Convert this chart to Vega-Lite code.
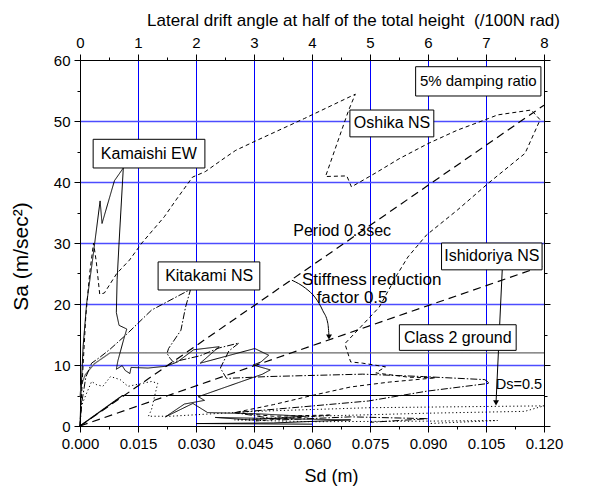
{
  "$schema": "https://vega.github.io/schema/vega-lite/v6.json",
  "width": 464,
  "height": 366,
  "autosize": "none",
  "padding": {"left": 80, "top": 60, "right": 54, "bottom": 65},
  "background": "white",
  "config": {
    "font": "Liberation Sans",
    "view": {"stroke": "black", "strokeWidth": 1},
    "axis": {
      "labelFont": "Liberation Sans",
      "labelFontSize": 15,
      "labelColor": "black",
      "titleFont": "Liberation Sans",
      "titleFontSize": 18,
      "titleFontWeight": "normal",
      "titleColor": "black",
      "domainColor": "black",
      "tickColor": "black",
      "labelPadding": 4
    }
  },
  "datasets": {
    "refs": [
      {"s": "Class 2 ground", "i": 1, "x": 0, "y": 4.8},
      {"s": "Class 2 ground", "i": 2, "x": 0.00027, "y": 6.6},
      {"s": "Class 2 ground", "i": 3, "x": 0.00136, "y": 8.4},
      {"s": "Class 2 ground", "i": 4, "x": 0.0037, "y": 10.2},
      {"s": "Class 2 ground", "i": 5, "x": 0.0078, "y": 12},
      {"s": "Class 2 ground", "i": 6, "x": 0.12, "y": 12},
      {"s": "Ds=0.5", "i": 1, "x": 0, "y": 0},
      {"s": "Ds=0.5", "i": 2, "x": 0.011, "y": 5},
      {"s": "Ds=0.5", "i": 3, "x": 0.12, "y": 5},
      {"s": "Period 0.3sec", "i": 1, "x": 0, "y": 0},
      {"s": "Period 0.3sec", "i": 2, "x": 0.12, "y": 52.6},
      {"s": "Stiffness 0.5", "i": 1, "x": 0, "y": 0},
      {"s": "Stiffness 0.5", "i": 2, "x": 0.12, "y": 26.3}
    ],
    "curves": [
      {"s": "Kamaishi EW", "i": 1, "x": 0, "y": 0},
      {"s": "Kamaishi EW", "i": 2, "x": 0.0003, "y": 6},
      {"s": "Kamaishi EW", "i": 3, "x": 0.0008, "y": 13},
      {"s": "Kamaishi EW", "i": 4, "x": 0.0017, "y": 20},
      {"s": "Kamaishi EW", "i": 5, "x": 0.0032, "y": 27},
      {"s": "Kamaishi EW", "i": 6, "x": 0.0052, "y": 36.9},
      {"s": "Kamaishi EW", "i": 7, "x": 0.0057, "y": 33.2},
      {"s": "Kamaishi EW", "i": 8, "x": 0.0089, "y": 40.2},
      {"s": "Kamaishi EW", "i": 9, "x": 0.0112, "y": 42.3},
      {"s": "Kamaishi EW", "i": 10, "x": 0.0101, "y": 30},
      {"s": "Kamaishi EW", "i": 11, "x": 0.0096, "y": 24},
      {"s": "Kamaishi EW", "i": 12, "x": 0.0094, "y": 18.6},
      {"s": "Kamaishi EW", "i": 13, "x": 0.0101, "y": 16.5},
      {"s": "Kamaishi EW", "i": 14, "x": 0.0121, "y": 15.9},
      {"s": "Kamaishi EW", "i": 15, "x": 0.0113, "y": 14.2},
      {"s": "Kamaishi EW", "i": 16, "x": 0.0098, "y": 10.7},
      {"s": "Kamaishi EW", "i": 17, "x": 0.0094, "y": 9.3},
      {"s": "Kamaishi EW", "i": 18, "x": 0.0109, "y": 9.9},
      {"s": "Kamaishi EW", "i": 19, "x": 0.0117, "y": 9.1},
      {"s": "Kamaishi EW", "i": 20, "x": 0.0129, "y": 8.6},
      {"s": "Kamaishi EW", "i": 21, "x": 0.0132, "y": 9.6},
      {"s": "Kamaishi EW", "i": 22, "x": 0.0176, "y": 9.5},
      {"s": "Kamaishi EW", "i": 23, "x": 0.0223, "y": 9.8},
      {"s": "Kamaishi EW", "i": 24, "x": 0.0252, "y": 10.5},
      {"s": "Kamaishi EW", "i": 25, "x": 0.0294, "y": 12.5},
      {"s": "Kamaishi EW", "i": 26, "x": 0.036, "y": 13.0},
      {"s": "Kamaishi EW", "i": 27, "x": 0.0311, "y": 10.3},
      {"s": "Kamaishi EW", "i": 28, "x": 0.0452, "y": 12.7},
      {"s": "Kamaishi EW", "i": 29, "x": 0.0488, "y": 11.6},
      {"s": "Kamaishi EW", "i": 30, "x": 0.0468, "y": 10.5},
      {"s": "Kamaishi EW", "i": 31, "x": 0.0448, "y": 10.0},
      {"s": "Kamaishi EW", "i": 32, "x": 0.0492, "y": 9.2},
      {"s": "Kamaishi EW", "i": 33, "x": 0.0472, "y": 8.5},
      {"s": "Kamaishi EW", "i": 34, "x": 0.0306, "y": 4.8},
      {"s": "Kamaishi EW", "i": 35, "x": 0.0322, "y": 4.2},
      {"s": "Kamaishi EW", "i": 36, "x": 0.027, "y": 3.6},
      {"s": "Kamaishi EW", "i": 37, "x": 0.0221, "y": 1.5},
      {"s": "Kamaishi EW", "i": 38, "x": 0.0292, "y": 3.7},
      {"s": "Kamaishi EW", "i": 39, "x": 0.033, "y": 2.2},
      {"s": "Kamaishi EW", "i": 40, "x": 0.046, "y": 2.0},
      {"s": "Kamaishi EW", "i": 41, "x": 0.058, "y": 1.6},
      {"s": "Kamaishi EW", "i": 42, "x": 0.044, "y": 1.0},
      {"s": "Kamaishi EW", "i": 43, "x": 0.035, "y": 1.4},
      {"s": "Kamaishi EW", "i": 44, "x": 0.052, "y": 1.2},
      {"s": "Kamaishi EW", "i": 45, "x": 0.07, "y": 1.0},
      {"s": "Kamaishi EW", "i": 46, "x": 0.05, "y": 0.5},
      {"s": "Kamaishi EW", "i": 47, "x": 0.03, "y": 0.4},
      {"s": "Kamaishi EW", "i": 48, "x": 0.06, "y": 0.3},
      {"s": "Oshika NS", "i": 1, "x": 0, "y": 0},
      {"s": "Oshika NS", "i": 2, "x": 0.0008, "y": 10},
      {"s": "Oshika NS", "i": 3, "x": 0.0015, "y": 18},
      {"s": "Oshika NS", "i": 4, "x": 0.0025, "y": 25},
      {"s": "Oshika NS", "i": 5, "x": 0.0035, "y": 30},
      {"s": "Oshika NS", "i": 6, "x": 0.0042, "y": 27},
      {"s": "Oshika NS", "i": 7, "x": 0.0051, "y": 21.6},
      {"s": "Oshika NS", "i": 8, "x": 0.0063, "y": 21.8},
      {"s": "Oshika NS", "i": 9, "x": 0.0095, "y": 25},
      {"s": "Oshika NS", "i": 10, "x": 0.0128, "y": 27.2},
      {"s": "Oshika NS", "i": 11, "x": 0.016, "y": 30},
      {"s": "Oshika NS", "i": 12, "x": 0.0218, "y": 34.3},
      {"s": "Oshika NS", "i": 13, "x": 0.025, "y": 37.2},
      {"s": "Oshika NS", "i": 14, "x": 0.0291, "y": 40.8},
      {"s": "Oshika NS", "i": 15, "x": 0.0324, "y": 41.7},
      {"s": "Oshika NS", "i": 16, "x": 0.0373, "y": 43.9},
      {"s": "Oshika NS", "i": 17, "x": 0.0403, "y": 45.2},
      {"s": "Oshika NS", "i": 18, "x": 0.046, "y": 46.9},
      {"s": "Oshika NS", "i": 19, "x": 0.058, "y": 50.4},
      {"s": "Oshika NS", "i": 20, "x": 0.0712, "y": 54.4},
      {"s": "Oshika NS", "i": 21, "x": 0.0695, "y": 51.8},
      {"s": "Oshika NS", "i": 22, "x": 0.0635, "y": 40.9},
      {"s": "Oshika NS", "i": 23, "x": 0.069, "y": 41.0},
      {"s": "Oshika NS", "i": 24, "x": 0.0702, "y": 39.2},
      {"s": "Oshika NS", "i": 25, "x": 0.0765, "y": 41.5},
      {"s": "Oshika NS", "i": 26, "x": 0.0825, "y": 43.8},
      {"s": "Oshika NS", "i": 27, "x": 0.09, "y": 46.3},
      {"s": "Oshika NS", "i": 28, "x": 0.0976, "y": 48.5},
      {"s": "Oshika NS", "i": 29, "x": 0.1056, "y": 50.4},
      {"s": "Oshika NS", "i": 30, "x": 0.108, "y": 51},
      {"s": "Oshika NS", "i": 31, "x": 0.1167, "y": 51.8},
      {"s": "Oshika NS", "i": 32, "x": 0.119, "y": 50.2},
      {"s": "Oshika NS", "i": 33, "x": 0.1151, "y": 44.7},
      {"s": "Oshika NS", "i": 34, "x": 0.1056, "y": 39.8},
      {"s": "Oshika NS", "i": 35, "x": 0.0976, "y": 35.4},
      {"s": "Oshika NS", "i": 36, "x": 0.0896, "y": 31.3},
      {"s": "Oshika NS", "i": 37, "x": 0.0848, "y": 27.7},
      {"s": "Oshika NS", "i": 38, "x": 0.082, "y": 24.8},
      {"s": "Oshika NS", "i": 39, "x": 0.0774, "y": 19.5},
      {"s": "Oshika NS", "i": 40, "x": 0.0718, "y": 15.7},
      {"s": "Oshika NS", "i": 41, "x": 0.0685, "y": 13.5},
      {"s": "Oshika NS", "i": 42, "x": 0.07, "y": 10.5},
      {"s": "Oshika NS", "i": 43, "x": 0.0731, "y": 10.3},
      {"s": "Oshika NS", "i": 44, "x": 0.079, "y": 9.7},
      {"s": "Oshika NS", "i": 45, "x": 0.0765, "y": 8.7},
      {"s": "Oshika NS", "i": 46, "x": 0.085, "y": 8.0},
      {"s": "Oshika NS", "i": 47, "x": 0.092, "y": 7.9},
      {"s": "Oshika NS", "i": 48, "x": 0.08, "y": 7.2},
      {"s": "Oshika NS", "i": 49, "x": 0.07, "y": 6.4},
      {"s": "Oshika NS", "i": 50, "x": 0.06, "y": 5.0},
      {"s": "Oshika NS", "i": 51, "x": 0.05, "y": 3.5},
      {"s": "Oshika NS", "i": 52, "x": 0.04, "y": 2.2},
      {"s": "Oshika NS", "i": 53, "x": 0.05, "y": 1.6},
      {"s": "Oshika NS", "i": 54, "x": 0.065, "y": 1.8},
      {"s": "Oshika NS", "i": 55, "x": 0.045, "y": 0.8},
      {"s": "Kitakami NS", "i": 1, "x": 0, "y": 0},
      {"s": "Kitakami NS", "i": 2, "x": 0.0005, "y": 4},
      {"s": "Kitakami NS", "i": 3, "x": 0.0015, "y": 8},
      {"s": "Kitakami NS", "i": 4, "x": 0.003, "y": 10.3},
      {"s": "Kitakami NS", "i": 5, "x": 0.005, "y": 11.2},
      {"s": "Kitakami NS", "i": 6, "x": 0.0078, "y": 12.6},
      {"s": "Kitakami NS", "i": 7, "x": 0.012, "y": 15},
      {"s": "Kitakami NS", "i": 8, "x": 0.0185, "y": 19},
      {"s": "Kitakami NS", "i": 9, "x": 0.0286, "y": 22.4},
      {"s": "Kitakami NS", "i": 10, "x": 0.0273, "y": 19.5},
      {"s": "Kitakami NS", "i": 11, "x": 0.0261, "y": 15.7},
      {"s": "Kitakami NS", "i": 12, "x": 0.0229, "y": 12.7},
      {"s": "Kitakami NS", "i": 13, "x": 0.0225, "y": 11.9},
      {"s": "Kitakami NS", "i": 14, "x": 0.0233, "y": 11.1},
      {"s": "Kitakami NS", "i": 15, "x": 0.0241, "y": 10.5},
      {"s": "Kitakami NS", "i": 16, "x": 0.031, "y": 11.5},
      {"s": "Kitakami NS", "i": 17, "x": 0.036, "y": 12.8},
      {"s": "Kitakami NS", "i": 18, "x": 0.0411, "y": 13.6},
      {"s": "Kitakami NS", "i": 19, "x": 0.0385, "y": 12.3},
      {"s": "Kitakami NS", "i": 20, "x": 0.0363, "y": 9.5},
      {"s": "Kitakami NS", "i": 21, "x": 0.0379, "y": 7.8},
      {"s": "Kitakami NS", "i": 22, "x": 0.0483, "y": 8.1},
      {"s": "Kitakami NS", "i": 23, "x": 0.0731, "y": 8.5},
      {"s": "Kitakami NS", "i": 24, "x": 0.0888, "y": 8.1},
      {"s": "Kitakami NS", "i": 25, "x": 0.1047, "y": 7.6},
      {"s": "Kitakami NS", "i": 26, "x": 0.1059, "y": 7.0},
      {"s": "Kitakami NS", "i": 27, "x": 0.0896, "y": 5.7},
      {"s": "Kitakami NS", "i": 28, "x": 0.0746, "y": 4.1},
      {"s": "Kitakami NS", "i": 29, "x": 0.055, "y": 3.0},
      {"s": "Kitakami NS", "i": 30, "x": 0.04, "y": 2.2},
      {"s": "Kitakami NS", "i": 31, "x": 0.052, "y": 1.0},
      {"s": "Kitakami NS", "i": 32, "x": 0.07, "y": 1.5},
      {"s": "Kitakami NS", "i": 33, "x": 0.09, "y": 1.2},
      {"s": "Kitakami NS", "i": 34, "x": 0.075, "y": 0.6},
      {"s": "Ishidoriya NS", "i": 1, "x": 0, "y": 0},
      {"s": "Ishidoriya NS", "i": 2, "x": 0.0003, "y": 3.2},
      {"s": "Ishidoriya NS", "i": 3, "x": 0.0014, "y": 4.9},
      {"s": "Ishidoriya NS", "i": 4, "x": 0.003, "y": 7.3},
      {"s": "Ishidoriya NS", "i": 5, "x": 0.0042, "y": 6.8},
      {"s": "Ishidoriya NS", "i": 6, "x": 0.0059, "y": 6.5},
      {"s": "Ishidoriya NS", "i": 7, "x": 0.0079, "y": 8.1},
      {"s": "Ishidoriya NS", "i": 8, "x": 0.0104, "y": 7.6},
      {"s": "Ishidoriya NS", "i": 9, "x": 0.0124, "y": 6.5},
      {"s": "Ishidoriya NS", "i": 10, "x": 0.0185, "y": 7.3},
      {"s": "Ishidoriya NS", "i": 11, "x": 0.0201, "y": 7.0},
      {"s": "Ishidoriya NS", "i": 12, "x": 0.0193, "y": 4.9},
      {"s": "Ishidoriya NS", "i": 13, "x": 0.0185, "y": 2.7},
      {"s": "Ishidoriya NS", "i": 14, "x": 0.0177, "y": 1.6},
      {"s": "Ishidoriya NS", "i": 15, "x": 0.0234, "y": 1.6},
      {"s": "Ishidoriya NS", "i": 16, "x": 0.045, "y": 2.4},
      {"s": "Ishidoriya NS", "i": 17, "x": 0.075, "y": 3.0},
      {"s": "Ishidoriya NS", "i": 18, "x": 0.12, "y": 3.3},
      {"s": "Ishidoriya NS", "i": 19, "x": 0.115, "y": 2.4},
      {"s": "Ishidoriya NS", "i": 20, "x": 0.09, "y": 2.1},
      {"s": "Ishidoriya NS", "i": 21, "x": 0.06, "y": 1.6},
      {"s": "Ishidoriya NS", "i": 22, "x": 0.04, "y": 1.0},
      {"s": "Ishidoriya NS", "i": 23, "x": 0.06, "y": 0.7},
      {"s": "Ishidoriya NS", "i": 24, "x": 0.09, "y": 0.8},
      {"s": "Ishidoriya NS", "i": 25, "x": 0.108, "y": 0.9},
      {"s": "Ishidoriya NS", "i": 26, "x": 0.09, "y": 0.4}
    ],
    "boxes": [
      {"t": "5% damping ratio", "x": 0.0868, "x2": 0.1192, "y": 54.1, "y2": 58.9},
      {"t": "Oshika NS", "x": 0.0698, "x2": 0.0915, "y": 47.4, "y2": 51.8},
      {"t": "Kamaishi EW", "x": 0.0034, "x2": 0.0323, "y": 42.3, "y2": 47.0},
      {"t": "Kitakami NS", "x": 0.0202, "x2": 0.0465, "y": 22.3, "y2": 26.9},
      {"t": "Ishidoriya NS", "x": 0.0935, "x2": 0.1195, "y": 25.6, "y2": 30.0},
      {"t": "Class 2 ground", "x": 0.0826, "x2": 0.1128, "y": 12.4, "y2": 16.6}
    ],
    "labels": [
      {"t": "Oshika NS", "x": 0.0807, "y": 49.6},
      {"t": "Kamaishi EW", "x": 0.0178, "y": 44.65},
      {"t": "Kitakami NS", "x": 0.0334, "y": 24.6},
      {"t": "Ishidoriya NS", "x": 0.1065, "y": 27.8},
      {"t": "Class 2 ground", "x": 0.0977, "y": 14.5},
      {"t": "Period 0.3sec", "x": 0.0678, "y": 32.0}
    ],
    "smalllabels": [
      {"t": "5% damping ratio", "x": 0.103, "y": 56.5}
    ],
    "leftlabels": [
      {"t": "Stiffness reduction", "x": 0.0574, "y": 24.0},
      {"t": "factor 0.5", "x": 0.0612, "y": 21.0}
    ],
    "rightlabels": [
      {"t": "Ds=0.5", "x": 0.1195, "y": 6.8}
    ],
    "arrows": [
      {"a": "stiff", "i": 1, "x": 0.0548, "y": 23.9},
      {"a": "stiff", "i": 2, "x": 0.0583, "y": 22.6},
      {"a": "stiff", "i": 3, "x": 0.0609, "y": 21.0},
      {"a": "stiff", "i": 4, "x": 0.0628, "y": 18.9},
      {"a": "stiff", "i": 5, "x": 0.0641, "y": 16.8},
      {"a": "stiff", "i": 6, "x": 0.0644, "y": 14.7},
      {"a": "ishi", "i": 1, "x": 0.1092, "y": 25.6},
      {"a": "ishi", "i": 2, "x": 0.1076, "y": 3.9}
    ],
    "heads": [
      {"a": "stiff", "x": 0.0644, "y": 14.6},
      {"a": "ishi", "x": 0.1076, "y": 3.8}
    ]
  },
  "layer": [
    {
      "data": {"name": "refs"},
      "mark": {"type": "line", "strokeWidth": 1.2},
      "encoding": {
        "x": {
          "field": "x", "type": "quantitative",
          "scale": {"domain": [0, 0.12], "nice": false, "zero": false},
          "axis": {
            "orient": "bottom",
            "title": "Sd (m)",
            "titlePadding": 16,
            "titleX": 251,
            "values": [0, 0.0075, 0.015, 0.0225, 0.03, 0.0375, 0.045, 0.0525, 0.06, 0.0675, 0.075, 0.0825, 0.09, 0.0975, 0.105, 0.1125, 0.12],
            "labelExpr": "round(datum.value / 0.0075) % 2 == 0 ? format(datum.value, '.3f') : ''",
            "tickSize": {"condition": {"test": "round(datum.value / 0.0075) % 2 == 0", "value": 6}, "value": 3},
            "grid": true,
            "gridColor": "#0000ff",
            "gridWidth": 1,
            "gridOpacity": {"condition": {"test": "round(datum.value / 0.0075) % 2 == 0 && datum.value > 0.001 && datum.value < 0.119", "value": 1}, "value": 0},
            "labelFlush": false
          }
        },
        "y": {
          "field": "y", "type": "quantitative",
          "scale": {"domain": [0, 60], "nice": false},
          "axis": {
            "orient": "left",
            "title": "Sa (m/sec²)",
            "titlePadding": 22,
            "titleFontSize": 21,
            "titleY": 196,
            "values": [0, 5, 10, 15, 20, 25, 30, 35, 40, 45, 50, 55, 60],
            "labelExpr": "datum.value % 10 == 0 ? format(datum.value, 'd') : ''",
            "tickSize": {"condition": {"test": "datum.value % 10 == 0", "value": 6}, "value": 3},
            "grid": true,
            "gridColor": "#4d4dff",
            "gridWidth": 1.6,
            "gridOpacity": {"condition": {"test": "datum.value % 10 == 0 && datum.value > 0 && datum.value < 60", "value": 1}, "value": 0},
            "labelFlush": false
          }
        },
        "detail": {"field": "s"},
        "order": {"field": "i"},
        "color": {"field": "s", "type": "nominal", "legend": null,
          "scale": {"domain": ["Class 2 ground", "Ds=0.5", "Period 0.3sec", "Stiffness 0.5"], "range": ["#666666", "black", "black", "black"]}},
        "strokeDash": {"field": "s", "type": "nominal", "legend": null,
          "scale": {"domain": ["Class 2 ground", "Ds=0.5", "Period 0.3sec", "Stiffness 0.5", "Kamaishi EW", "Oshika NS", "Kitakami NS", "Ishidoriya NS"], "range": [[1, 0], [1, 0], [8, 5], [8, 5], [1, 0], [4, 3], [7, 2, 1.5, 2], [1.2, 2.5]]}}
      }
    },
    {
      "data": {"name": "curves"},
      "mark": {"type": "line", "strokeWidth": 1, "color": "black"},
      "encoding": {
        "x": {
          "field": "x", "type": "quantitative",
          "scale": {"domain": [0, 0.12], "nice": false, "zero": false},
          "axis": {
            "orient": "top",
            "title": "Lateral drift angle at half of the total height \u00a0(/100N rad)",
            "titleFontSize": 17,
            "titlePadding": 6,
            "titleX": 273,
            "values": [0, 0.0075, 0.015, 0.0225, 0.03, 0.0375, 0.045, 0.0525, 0.06, 0.0675, 0.075, 0.0825, 0.09, 0.0975, 0.105, 0.1125, 0.12],
            "labelExpr": "round(datum.value / 0.0075) % 2 == 0 ? format(datum.value / 0.015, '.0f') : ''",
            "tickSize": {"condition": {"test": "round(datum.value / 0.0075) % 2 == 0", "value": 6}, "value": 3},
            "grid": false,
            "labelFlush": false
          }
        },
        "y": {
          "field": "y", "type": "quantitative",
          "scale": {"domain": [0, 60], "nice": false},
          "axis": {
            "orient": "right",
            "title": null,
            "values": [0, 5, 10, 15, 20, 25, 30, 35, 40, 45, 50, 55, 60],
            "labels": false,
            "tickSize": {"condition": {"test": "datum.value % 10 == 0", "value": 6}, "value": 3},
            "grid": false
          }
        },
        "detail": {"field": "s"},
        "order": {"field": "i"},
        "strokeDash": {"field": "s", "type": "nominal", "legend": null,
          "scale": {"domain": ["Class 2 ground", "Ds=0.5", "Period 0.3sec", "Stiffness 0.5", "Kamaishi EW", "Oshika NS", "Kitakami NS", "Ishidoriya NS"], "range": [[1, 0], [1, 0], [8, 5], [8, 5], [1, 0], [4, 3], [7, 2, 1.5, 2], [1.2, 2.5]]}}
      }
    },
    {
      "data": {"name": "arrows"},
      "mark": {"type": "line", "strokeWidth": 1, "color": "black", "interpolate": "monotone"},
      "encoding": {
        "x": {"field": "x", "type": "quantitative", "axis": null},
        "y": {"field": "y", "type": "quantitative", "axis": null},
        "detail": {"field": "a"},
        "order": {"field": "i"}
      }
    },
    {
      "data": {"name": "heads"},
      "mark": {"type": "point", "shape": "triangle-down", "filled": true, "color": "black", "size": 35, "opacity": 1},
      "encoding": {
        "x": {"field": "x", "type": "quantitative", "axis": null},
        "y": {"field": "y", "type": "quantitative", "axis": null}
      }
    },
    {
      "data": {"name": "boxes"},
      "mark": {"type": "rect", "fill": "white", "stroke": "black", "strokeWidth": 1},
      "encoding": {
        "x": {"field": "x", "type": "quantitative", "axis": null},
        "x2": {"field": "x2"},
        "y": {"field": "y", "type": "quantitative", "axis": null},
        "y2": {"field": "y2"}
      }
    },
    {
      "data": {"name": "labels"},
      "mark": {"type": "text", "fontSize": 16, "font": "Liberation Sans", "align": "center", "baseline": "middle", "color": "black"},
      "encoding": {
        "x": {"field": "x", "type": "quantitative", "axis": null},
        "y": {"field": "y", "type": "quantitative", "axis": null},
        "text": {"field": "t"}
      }
    },
    {
      "data": {"name": "smalllabels"},
      "mark": {"type": "text", "fontSize": 15, "font": "Liberation Sans", "align": "center", "baseline": "middle", "color": "black"},
      "encoding": {
        "x": {"field": "x", "type": "quantitative", "axis": null},
        "y": {"field": "y", "type": "quantitative", "axis": null},
        "text": {"field": "t"}
      }
    },
    {
      "data": {"name": "leftlabels"},
      "mark": {"type": "text", "fontSize": 17, "font": "Liberation Sans", "align": "left", "baseline": "middle", "color": "black"},
      "encoding": {
        "x": {"field": "x", "type": "quantitative", "axis": null},
        "y": {"field": "y", "type": "quantitative", "axis": null},
        "text": {"field": "t"}
      }
    },
    {
      "data": {"name": "rightlabels"},
      "mark": {"type": "text", "fontSize": 14.5, "font": "Liberation Sans", "align": "right", "baseline": "middle", "color": "black"},
      "encoding": {
        "x": {"field": "x", "type": "quantitative", "axis": null},
        "y": {"field": "y", "type": "quantitative", "axis": null},
        "text": {"field": "t"}
      }
    }
  ],
  "resolve": {"axis": {"x": "independent", "y": "independent"}}
}
